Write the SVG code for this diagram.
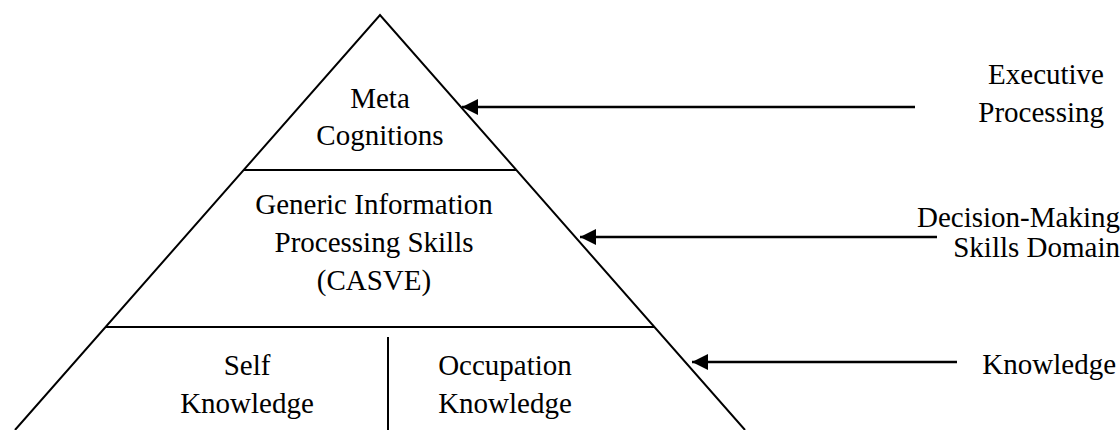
<svg xmlns="http://www.w3.org/2000/svg" width="1120" height="430" viewBox="0 0 1120 430">
<style>
.t{font-family:"Liberation Serif","Times New Roman",serif;font-size:29px;fill:#000;text-anchor:middle}
.r{text-anchor:end}
.ln{stroke:#000;stroke-width:2;fill:none}
.ar{stroke:#000;stroke-width:2.5;fill:none;marker-end:url(#ah)}
</style>
<defs>
<marker id="ah" markerUnits="userSpaceOnUse" markerWidth="18" markerHeight="16" refX="16" refY="8" orient="auto">
<path d="M0,0 L16,8 L0,16 Z" fill="#000"/>
</marker>
</defs>
<g id="pyramid">
<path class="ln" d="M15,430 L380,15 L745,430"/>
</g>
<g id="meta">
<line class="ln" x1="244" y1="170" x2="516" y2="170"/>
<text class="t" x="380" y="108">Meta</text>
<text class="t" x="380" y="145">Cognitions</text>
</g>
<g id="generic">
<line class="ln" x1="106" y1="327" x2="655" y2="327"/>
<text class="t" x="374" y="214">Generic Information</text>
<text class="t" x="374" y="252">Processing Skills</text>
<text class="t" x="374" y="290">(CASVE)</text>
</g>
<g id="self">
<line class="ln" x1="388" y1="337" x2="388" y2="430"/>
<text class="t" x="247" y="375">Self</text>
<text class="t" x="247" y="413">Knowledge</text>
</g>
<g id="occupation">
<text class="t" x="505" y="375">Occupation</text>
<text class="t" x="505" y="413">Knowledge</text>
</g>
<g id="executive">
<text class="t r" x="1104" y="84">Executive</text>
<text class="t r" x="1104" y="122">Processing</text>
</g>
<g id="decision">
<text class="t r" x="1120" y="227">Decision-Making</text>
<text class="t r" x="1120" y="257">Skills Domain</text>
</g>
<g id="knowledge">
<text class="t r" x="1116" y="374">Knowledge</text>
</g>
<g id="connectors">
<line class="ar" x1="915" y1="107" x2="462" y2="107"/>
<line class="ar" x1="937" y1="237" x2="580" y2="237"/>
<line class="ar" x1="957" y1="362" x2="692" y2="362"/>
</g>
</svg>
